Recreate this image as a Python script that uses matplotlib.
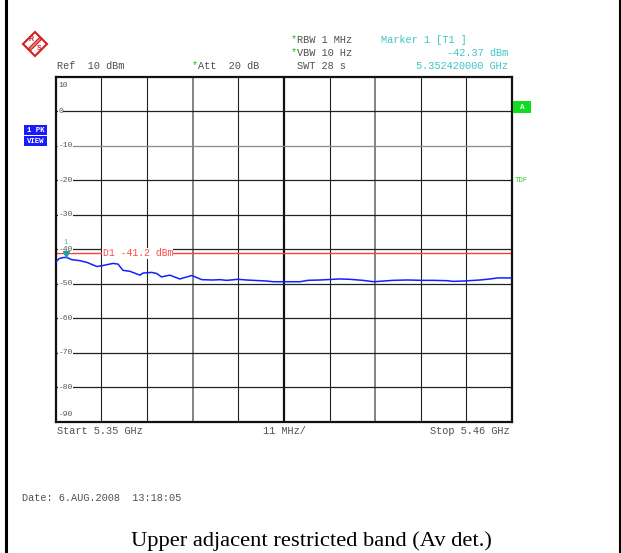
import matplotlib
matplotlib.use("Agg")
import matplotlib.pyplot as plt
from matplotlib.patches import Rectangle, Polygon

# ---------------- data ----------------
freq_ghz = [5.3500, 5.3508, 5.3518, 5.3524, 5.3529, 5.3538, 5.3558, 5.3575, 5.3599,
            5.3614, 5.3638, 5.3650, 5.3662, 5.3679, 5.3703, 5.3710, 5.3731, 5.3743,
            5.3755, 5.3775, 5.3799, 5.3828, 5.3852, 5.3879, 5.3896, 5.3912, 5.3939,
            5.3960, 5.4009, 5.4024, 5.4089, 5.4108, 5.4137, 5.4185, 5.4209, 5.4240,
            5.4267, 5.4313, 5.4347, 5.4386, 5.4410, 5.4444, 5.4458, 5.4482, 5.4523,
            5.4547, 5.4566, 5.4600]
level_dbm = [-43.7, -42.7, -42.4, -42.37, -42.5, -43.0, -43.3, -43.8, -45.0,
             -44.7, -44.1, -44.3, -46.1, -46.4, -47.5, -46.9, -46.7, -47.0,
             -48.0, -47.5, -48.6, -47.6, -48.8, -48.9, -48.8, -49.0, -48.7,
             -48.9, -49.2, -49.4, -49.4, -49.0, -48.9, -48.6, -48.7, -49.0,
             -49.4, -49.0, -48.9, -49.0, -49.0, -49.1, -49.3, -49.2, -48.9,
             -48.6, -48.3, -48.3]
y_labels = [10, 0, -10, -20, -30, -40, -50, -60, -70, -80, -90]
start_ghz, stop_ghz = 5.35, 5.46
ref_dbm, bottom_dbm = 10, -90
d1_dbm = -41.2
marker_freq = 5.352420
marker_level = -42.37

W, H = 621, 553
fig = plt.figure(figsize=(W / 100, H / 100), dpi=100)
fig.patch.set_facecolor("white")

mono = "Liberation Mono"
hdr_col = "#505050"
teal = "#40c4c4"
green = "#10c010"

# ---------------- data axes ----------------
L, R, T, B = 55.8, 512.0, 76.5, 422.0
ax = fig.add_axes([L / W, 1 - B / H, (R - L) / W, (B - T) / H])
ax.set_xlim(start_ghz, stop_ghz)
ax.set_ylim(bottom_dbm, ref_dbm)
ax.set_xticks([])
ax.set_yticks([])
for s in ax.spines.values():
    s.set_linewidth(1.6)
    s.set_color("#111111")

step = (stop_ghz - start_ghz) / 10
for k in range(1, 10):
    xv = start_ghz + k * step
    if k in (3, 7):
        ax.axvline(xv, color="#7a7a7a", lw=1.3, zorder=1)
    elif k == 5:
        ax.axvline(xv, color="#111111", lw=1.6, zorder=1)
    else:
        ax.axvline(xv, color="#222222", lw=0.8, zorder=1)
for v in y_labels[1:-1]:
    c = "#8a8a8a" if v == -10 else "#222222"
    ax.axhline(v, color=c, lw=0.9, zorder=1)

# y labels
for v in y_labels:
    if v == ref_dbm:
        yy, box = v - 2.5, None
    elif v == bottom_dbm:
        yy, box = v + 2.2, None
    else:
        yy, box = v, dict(facecolor="white", edgecolor="none", pad=0.3)
    ax.text(start_ghz + 0.0006, yy, str(v), fontsize=5.8, family=mono, color="#555555",
            ha="left", va="center", zorder=3, bbox=box)

# D1 line
ax.axhline(d1_dbm, color="#ff3b3b", lw=1.0, zorder=2)
ax.text(start_ghz + 0.0113, d1_dbm, "D1 -41.2 dBm", fontsize=7.0, family=mono, color="#ff4a4a",
        ha="left", va="center", zorder=3,
        bbox=dict(facecolor="white", edgecolor="none", pad=0.2))

# trace
ax.plot(freq_ghz, level_dbm, color="#1020ff", lw=1.1, zorder=4)

# marker
ax.plot([marker_freq], [marker_level + 1.1], marker="v", ms=4.5, color="#20a0a0", zorder=5)
ax.text(marker_freq, marker_level + 4.3, "1", fontsize=5.5, family=mono, color=teal,
        ha="center", va="center", zorder=5)

# ---------------- overlay (pixel coords) ----------------
ov = fig.add_axes([0, 0, 1, 1], zorder=10)
ov.set_xlim(0, W)
ov.set_ylim(H, 0)
ov.axis("off")

# outer page border lines
ov.plot([6, 6], [0, H], color="black", lw=2.2)
ov.plot([619.5, 619.5], [0, H], color="black", lw=2.2)

fs = 7.4
ov.text(57, 66, "Ref  10 dBm", fontsize=fs, family=mono, color=hdr_col, va="center", ha="left")
ov.text(192, 65, "*", fontsize=fs, family=mono, color=green, va="center", ha="left")
ov.text(198, 66, "Att  20 dB", fontsize=fs, family=mono, color=hdr_col, va="center", ha="left")
ov.text(291, 39, "*", fontsize=fs, family=mono, color=green, va="center", ha="left")
ov.text(297, 40, "RBW 1 MHz", fontsize=fs, family=mono, color=hdr_col, va="center", ha="left")
ov.text(291, 52, "*", fontsize=fs, family=mono, color=green, va="center", ha="left")
ov.text(297, 53, "VBW 10 Hz", fontsize=fs, family=mono, color=hdr_col, va="center", ha="left")
ov.text(297, 66, "SWT 28 s", fontsize=fs, family=mono, color=hdr_col, va="center", ha="left")
ov.text(381, 40, "Marker 1 [T1 ]", fontsize=fs, family=mono, color=teal, va="center", ha="left")
ov.text(508, 53, f"{marker_level:.2f} dBm", fontsize=fs, family=mono, color=teal, va="center", ha="right")
ov.text(508, 66, f"{marker_freq:.9f} GHz", fontsize=fs, family=mono, color=teal, va="center", ha="right")

ov.text(57, 431, f"Start {start_ghz:.2f} GHz", fontsize=fs, family=mono, color=hdr_col, va="center", ha="left")
ov.text(284, 431, "11 MHz/", fontsize=fs, family=mono, color=hdr_col, va="center", ha="center")
ov.text(510, 431, f"Stop {stop_ghz:.2f} GHz", fontsize=fs, family=mono, color=hdr_col, va="center", ha="right")

ov.text(22, 498, "Date: 6.AUG.2008  13:18:05", fontsize=fs, family=mono, color=hdr_col, va="center", ha="left")

ov.text(311, 541, "Upper adjacent restricted band (Av det.)", fontsize=16.2,
        family="Liberation Serif", color="black", va="center", ha="center")

# 1 PK VIEW boxes
ov.add_patch(Rectangle((24, 125), 23, 10, facecolor="#1a1aff", edgecolor="none"))
ov.add_patch(Rectangle((24, 136), 23, 10, facecolor="#1a1aff", edgecolor="none"))
ov.text(35.5, 130.3, "1 PK", fontsize=5.3, family=mono, color="white", weight="bold", va="center", ha="center")
ov.text(35.5, 141.3, "VIEW", fontsize=5.3, family=mono, color="white", weight="bold", va="center", ha="center")

# A box and TDF
ov.add_patch(Rectangle((513, 101), 18, 12, facecolor="#10dd20", edgecolor="none"))
ov.text(522, 107.3, "A", fontsize=5.5, family=mono, color="white", weight="bold", va="center", ha="center")
ov.text(515, 181, "TDF", fontsize=5.3, family=mono, color="#30cc30", va="center", ha="left")

# R&S logo
cx, cy, r = 35, 44, 12
ov.add_patch(Polygon([(cx, cy - r), (cx + r, cy), (cx, cy + r), (cx - r, cy)], closed=True,
                     facecolor="white", edgecolor="#d42020", lw=1.5))
ov.add_patch(Polygon([(cx + 4.5, cy - 6.5), (cx + 6.5, cy - 4.5), (cx - 4.5, cy + 6.5), (cx - 6.5, cy + 4.5)],
                     closed=True, facecolor="#e88080", edgecolor="#d42020", lw=0.8))
ov.text(cx - 4.2, cy - 4.2, "R", fontsize=5.0, family="Liberation Sans", color="#d42020",
        va="center", ha="center", weight="bold")
ov.text(cx + 4.2, cy + 4.2, "S", fontsize=5.0, family="Liberation Sans", color="#d42020",
        va="center", ha="center", weight="bold")

fig.savefig("out.png", dpi=100)
